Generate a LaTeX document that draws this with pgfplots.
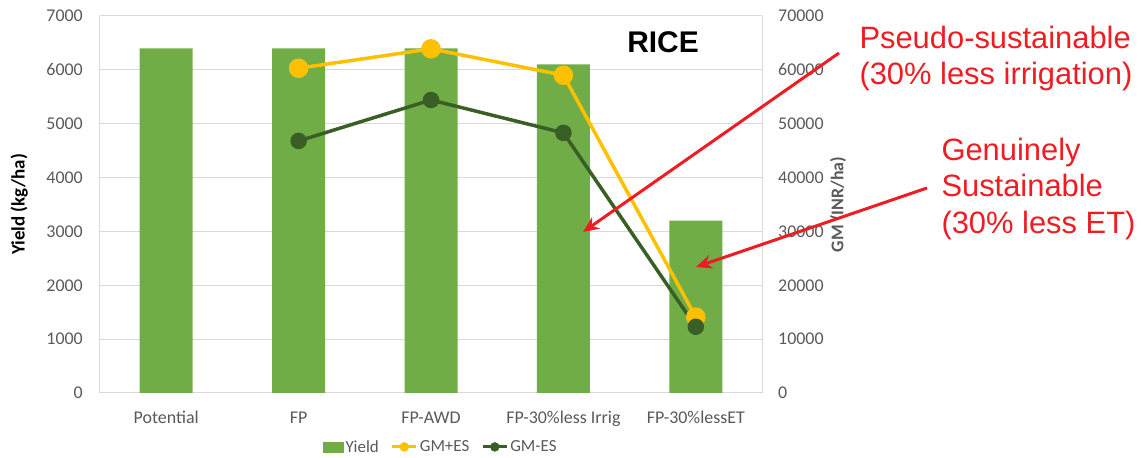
\documentclass[border=0pt]{standalone}
\usepackage{pgfplots}
\pgfplotsset{compat=1.18}
\usetikzlibrary{arrows.meta}
\usepackage{fontspec}
\setmainfont{Carlito}
\newfontfamily\arialfont{Liberation Sans}
\definecolor{barg}{HTML}{70AD47}
\definecolor{gold}{HTML}{FFC000}
\definecolor{dkg}{HTML}{3A5F26}
\definecolor{txtgray}{HTML}{595959}
\definecolor{gridc}{HTML}{D9D9D9}
\definecolor{annred}{HTML}{EE1D23}

\begin{document}
\begin{tikzpicture}[x=1bp,y=1bp]
% reference frame: picture pixels shifted so that the axis box starts at (0,0)
\useasboundingbox (-100,-65) rectangle (1041,393);
\pgfplotsset{
  base/.style={
    at={(0,0)}, anchor=south west,
    scale only axis, width=662bp, height=377bp,
    xmin=-0.5, xmax=4.5, ymin=0,
    scaled y ticks=false,
    /pgf/number format/assume math mode=true,
    /pgf/number format/1000 sep={},
    tick style={draw=none},
    axis line style={gridc, line width=1bp},
    ticklabel style={font=\fontsize{18}{21}\selectfont, text=txtgray},
  }
}
\begin{axis}[base,
  ymax=7000, ytick={0,1000,...,7000},
  xtick={0,...,4},
  xticklabels={Potential,FP,FP-AWD,FP-30\%less Irrig,FP-30\%lessET},
  xticklabel style={anchor=base, inner sep=0pt, yshift=-31bp},
  yticklabel style={anchor=east, inner sep=0pt, xshift=-17bp},
  ymajorgrids, grid style={gridc, line width=1bp},
  axis x line*=bottom, axis y line*=left,
  ylabel={\bfseries Yield (kg/ha)},
  ylabel style={at={(axis description cs:-0.122,0.5)}, anchor=center, rotate=0,
    font=\fontsize{19}{21}\selectfont, text=black},
]
\addplot[ybar, bar width=53bp, fill=barg, draw=none] coordinates {
  (0,6400) (1,6400) (2,6400) (3,6100) (4,3200)
};
\end{axis}
\begin{axis}[base,
  ymax=70000, ytick={0,10000,...,70000},
  axis x line=none, axis y line*=right,
  yticklabel style={anchor=west, inner sep=0pt, xshift=16bp},
  ylabel={\bfseries GM (INR/ha)},
  ylabel style={at={(axis description cs:1.115,0.5)}, anchor=center, rotate=0,
    font=\fontsize{18}{20}\selectfont, text=txtgray},
  legend style={at={(axis description cs:0.515,-0.143)}, anchor=center,
    legend columns=3, draw=none, fill=none,
    font=\fontsize{17}{19}\selectfont, text=txtgray,
    /tikz/every even column/.append style={column sep=10bp}},
]
\addlegendimage{legend image code/.code={\fill[barg] (0bp,-5bp) rectangle (20bp,5bp);}}
\addlegendentry{Yield}
\addlegendimage{legend image code/.code={\draw[gold, line width=3bp] (0bp,0bp) -- (24bp,0bp); \fill[gold] (12bp,0bp) circle (4.5bp);}}
\addlegendentry{GM+ES}
\addlegendimage{legend image code/.code={\draw[dkg, line width=3bp] (0bp,0bp) -- (24bp,0bp); \fill[dkg] (12bp,0bp) circle (4.5bp);}}
\addlegendentry{GM-ES}
\addplot[forget plot, gold, line width=3.5bp, mark=*, mark size=8bp, mark options={fill=gold, draw=gold}] coordinates {
  (1,60300) (2,63900) (3,59000) (4,14100)
};
\addplot[forget plot, dkg, line width=3.5bp, mark=*, mark size=6.5bp, mark options={fill=dkg, draw=dkg}] coordinates {
  (1,46800) (2,54400) (3,48300) (4,12300)
};
\end{axis}
\begin{scope}[shift={(-100,-65)}]
\node[font=\arialfont\bfseries\fontsize{30}{34}\selectfont] at (663,416) {RICE};
\node[anchor=west, align=left, text=annred, font=\arialfont\fontsize{31}{37}\selectfont] at (856,399.5)
  {Pseudo-sustainable\\(30\% less irrigation)};
\node[anchor=west, align=left, text=annred, font=\arialfont\fontsize{31}{37}\selectfont] at (938,269)
  {Genuinely\\Sustainable\\(30\% less ET)};
\draw[annred, line width=3bp, -{Stealth[length=16bp,width=14bp]}] (839,405) -- (583,226);
\draw[annred, line width=3bp, -{Stealth[length=16bp,width=14bp]}] (927,270) -- (696,191);
\end{scope}
\end{tikzpicture}
\end{document}
